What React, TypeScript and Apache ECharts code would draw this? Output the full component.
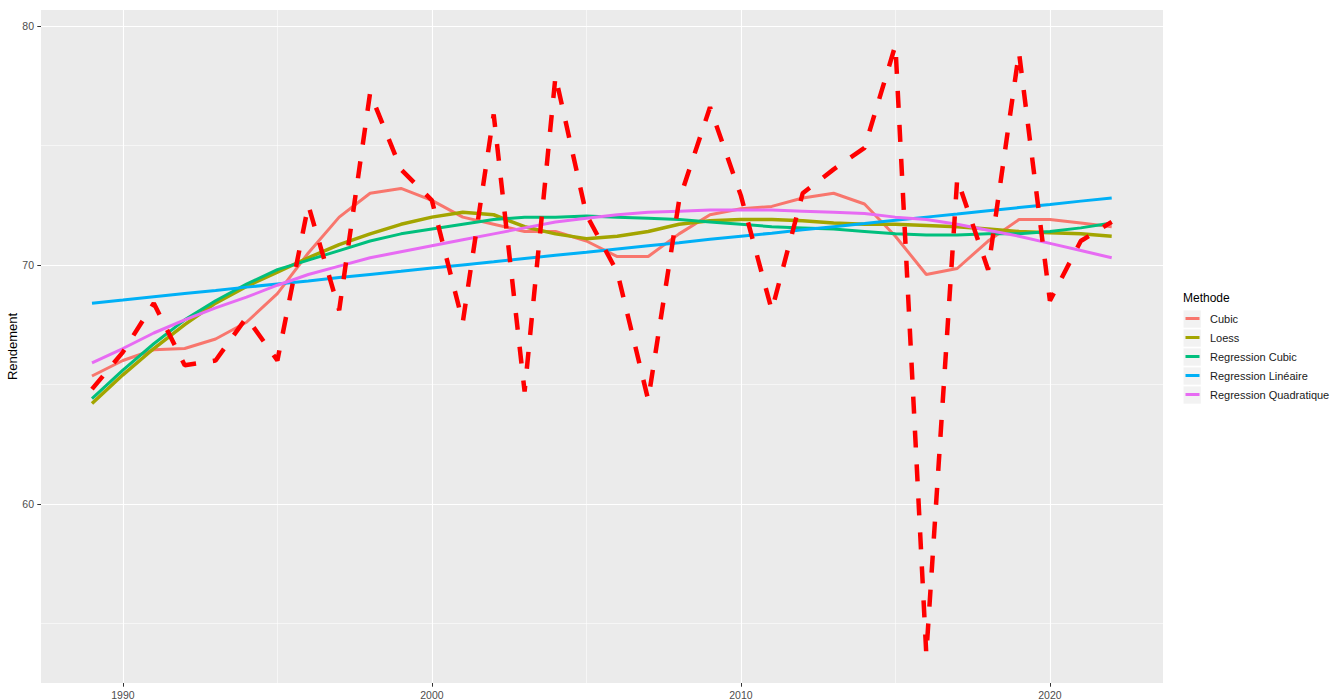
import React, { useEffect, useRef } from "react";
import * as echarts from "echarts";

const years = [
  1989, 1990, 1991, 1992, 1993, 1994, 1995, 1996, 1997, 1998, 1999, 2000,
  2001, 2002, 2003, 2004, 2005, 2006, 2007, 2008, 2009, 2010, 2011, 2012,
  2013, 2014, 2015, 2016, 2017, 2018, 2019, 2020, 2021, 2022,
];

// Observed yield (red dashed)
const rendement = [
  64.8, 66.35, 68.4, 65.8, 66.0, 67.8, 66.0, 72.5, 68.1, 77.2, 74.0, 72.7,
  67.6, 76.3, 64.7, 77.9, 72.1, 69.7, 64.35, 72.7, 76.6, 72.9, 68.1, 73.0,
  74.0, 74.9, 79.2, 53.7, 73.6, 69.8, 78.9, 68.5, 71.0, 71.8,
];

const cubic = [
  65.35, 66.0, 66.45, 66.5, 66.9, 67.6, 68.8, 70.5, 72.0, 73.0, 73.2, 72.7,
  72.0, 71.7, 71.4, 71.4, 71.0, 70.35, 70.35, 71.3, 72.1, 72.35, 72.45, 72.8,
  73.0, 72.55, 71.2, 69.6, 69.85, 71.0, 71.9, 71.9, 71.75, 71.6,
];

const loess = [
  64.2, 65.4, 66.5, 67.5, 68.4, 69.1, 69.7, 70.3, 70.85, 71.3, 71.7, 72.0,
  72.2, 72.1, 71.6, 71.3, 71.1, 71.2, 71.4, 71.7, 71.85, 71.9, 71.9, 71.85,
  71.75, 71.7, 71.7, 71.65, 71.6, 71.5, 71.4, 71.35, 71.3, 71.2,
];

const regressionCubic = [
  64.4, 65.6, 66.7, 67.7, 68.5, 69.2, 69.8, 70.2, 70.6, 71.0, 71.3, 71.5,
  71.7, 71.9, 72.0, 72.0, 72.05, 72.0, 71.95, 71.9, 71.8, 71.7, 71.6, 71.55,
  71.5, 71.4, 71.3, 71.25, 71.25, 71.3, 71.3, 71.4, 71.55, 71.75,
];

const regressionLineaire = [
  68.4, 68.53, 68.67, 68.8, 68.93, 69.07, 69.2, 69.33, 69.47, 69.6, 69.73,
  69.87, 70.0, 70.13, 70.27, 70.4, 70.53, 70.67, 70.8, 70.93, 71.07, 71.2,
  71.33, 71.47, 71.6, 71.73, 71.87, 72.0, 72.13, 72.27, 72.4, 72.53, 72.67,
  72.8,
];

const regressionQuadratique = [
  65.9, 66.5, 67.15, 67.7, 68.2, 68.65, 69.15, 69.6, 69.95, 70.3, 70.55, 70.8,
  71.05, 71.3, 71.55, 71.8, 71.95, 72.1, 72.2, 72.25, 72.3, 72.3, 72.3, 72.25,
  72.2, 72.15, 72.0, 71.9, 71.7, 71.45, 71.2, 70.9, 70.6, 70.3,
];

const xMajor = [1990, 2000, 2010, 2020];
const xMinor = [1995, 2005, 2015];
const yMajor = [60, 70, 80];
const yMinor = [55, 65, 75];

const methodNames = [
  "Cubic",
  "Loess",
  "Regression Cubic",
  "Regression Linéaire",
  "Regression Quadratique",
];
const methodValues = [
  cubic,
  loess,
  regressionCubic,
  regressionLineaire,
  regressionQuadratique,
];
const methodColors = ["#F8766D", "#A3A500", "#00BF7D", "#00B0F6", "#E76BF3"];
const methodWidths = [3, 3.5, 3, 3, 3];

const FONT = "'Liberation Sans', Arial, sans-serif";

export default function App() {
  const ref = useRef<HTMLDivElement>(null);

  useEffect(() => {
    if (!ref.current) return;
    const chart = echarts.init(ref.current, null, { renderer: "svg" });

    const gridLines = [
      ...xMajor.map((v) => ({ xAxis: v, lineStyle: { width: 1.1 } })),
      ...xMinor.map((v) => ({ xAxis: v, lineStyle: { width: 0.55 } })),
      ...yMajor.map((v) => ({ yAxis: v, lineStyle: { width: 1.1 } })),
      ...yMinor.map((v) => ({ yAxis: v, lineStyle: { width: 0.55 } })),
    ];

    const methodSeries = methodNames.map((name, k) => ({
      name,
      type: "line",
      data: years.map((y, i) => [y, methodValues[k][i]]),
      showSymbol: false,
      symbol: "none",
      z: 3,
      lineStyle: { color: methodColors[k], width: methodWidths[k] },
      itemStyle: { color: methodColors[k] },
    }));

    const graphics: any[] = [
      {
        type: "text",
        x: 12.5,
        y: 346.5,
        rotation: Math.PI / 2,
        style: {
          text: "Rendement",
          fontSize: 13,
          fontFamily: FONT,
          fill: "#000000",
          align: "center",
          verticalAlign: "middle",
        },
      },
      {
        type: "text",
        x: 1183,
        y: 297.5,
        style: {
          text: "Methode",
          fontSize: 12,
          fontFamily: FONT,
          fill: "#000000",
          verticalAlign: "middle",
        },
      },
    ];
    methodNames.forEach((name, i) => {
      const cy = 319 + i * 19;
      graphics.push({
        type: "rect",
        shape: { x: 1183.5, y: cy - 8.6, width: 17.3, height: 17.3 },
        style: { fill: "#F2F2F2" },
      });
      graphics.push({
        type: "line",
        shape: { x1: 1185.5, y1: cy - 0.5, x2: 1199.5, y2: cy - 0.5 },
        style: { stroke: methodColors[i], lineWidth: 3 },
      });
      graphics.push({
        type: "text",
        x: 1210,
        y: cy,
        style: {
          text: name,
          fontSize: 11,
          fontFamily: FONT,
          fill: "#1A1A1A",
          verticalAlign: "middle",
        },
      });
    });

    chart.setOption({
      animation: false,
      backgroundColor: "#FFFFFF",
      textStyle: { fontFamily: FONT },
      grid: {
        left: 41,
        right: 168,
        top: 10,
        bottom: 17,
        show: true,
        backgroundColor: "#EBEBEB",
        borderWidth: 0,
        containLabel: false,
        outerBoundsMode: "none",
      },
      xAxis: {
        type: "value",
        min: 1987.35,
        max: 2023.66,
        axisLine: { show: false },
        splitLine: { show: false },
        axisTick: {
          show: true,
          customValues: xMajor,
          length: 3.7,
          lineStyle: { color: "#333333", width: 1 },
        },
        axisLabel: {
          customValues: xMajor,
          formatter: (v: number) => String(v),
          color: "#4D4D4D",
          fontSize: 10.5,
          fontFamily: FONT,
          margin: 6,
        },
      },
      yAxis: {
        type: "value",
        min: 52.5,
        max: 80.67,
        axisLine: { show: false },
        splitLine: { show: false },
        axisTick: {
          show: true,
          customValues: yMajor,
          length: 3.7,
          lineStyle: { color: "#333333", width: 1 },
        },
        axisLabel: {
          customValues: yMajor,
          color: "#4D4D4D",
          fontSize: 10.5,
          fontFamily: FONT,
          margin: 7,
        },
      },
      series: [
        {
          name: "grid",
          type: "line",
          data: [],
          silent: true,
          z: 1,
          markLine: {
            silent: true,
            z: 1,
            symbol: ["none", "none"],
            label: { show: false },
            lineStyle: { color: "#FFFFFF", type: "solid", width: 1.1 },
            emphasis: { disabled: true },
            data: gridLines,
          },
        },
        ...methodSeries,
        {
          name: "Rendement",
          type: "line",
          data: years.map((y, i) => [y, rendement[i]]),
          showSymbol: false,
          symbol: "none",
          z: 4,
          lineStyle: { color: "#FF0000", width: 4.5, type: [17, 17] },
        },
      ],
      graphic: graphics,
    });

    return () => chart.dispose();
  }, []);

  return (
    <div
      ref={ref}
      style={{
        position: "fixed",
        left: 0,
        top: 0,
        width: 1331,
        height: 700,
        background: "#FFFFFF",
      }}
    />
  );
}
